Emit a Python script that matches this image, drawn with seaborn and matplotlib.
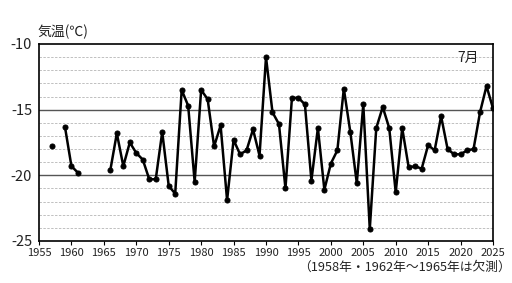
import numpy as np
import pandas as pd
import matplotlib
matplotlib.use("Agg")
import matplotlib.pyplot as plt
import seaborn as sns

years = list(range(1957, 2026))
temps = [
    -17.8, np.nan, -16.3, -19.3, -19.8, np.nan, np.nan, np.nan, np.nan,  # 1957-1965
    -19.6, -16.8, -19.3, -17.5, -18.3, -18.8, -20.3, -20.3, -16.7,       # 1966-1974
    -20.8, -21.4, -13.5, -14.7, -20.5, -13.5, -14.2, -17.8, -16.2,       # 1975-1983
    -21.9, -17.3, -18.4, -18.1, -16.5, -18.5, -11.0, -15.2, -16.1,       # 1984-1992
    -21.0, -14.1, -14.1, -14.6, -20.4, -16.4, -21.1, -19.1, -18.1,       # 1993-2001
    -13.4, -16.7, -20.6, -14.6, -24.1, -16.4, -14.8, -16.4, -21.3,       # 2002-2010
    -16.4, -19.4, -19.3, -19.5, -17.7, -18.1, -15.5, -18.0, -18.4,       # 2011-2019
    -18.4, -18.1, -18.0, -15.2, -13.2, -14.9,                            # 2020-2025
]
xticks = list(range(1955, 2026, 5))
yticks = [-10, -15, -20, -25]
title_text = "気温(℃)"
month_text = "7月"
note_text = "（1958年・1962年～1965年は欠測）"

df = pd.DataFrame({"year": years, "temp": temps})
# segment id so that missing years break the line
df["seg"] = df["temp"].isna().cumsum()
df = df.dropna()

sns.set_theme(style="white")
plt.rcParams["font.family"] = ["Noto Sans CJK JP", "DejaVu Sans"]
plt.rcParams["axes.unicode_minus"] = False

fig = plt.figure(figsize=(5.12, 2.83), dpi=100)
ax = fig.add_axes([39/512, 1-241/283, (493-39)/512, (241-44)/283])

# grid lines
for v in range(-24, -10):
    if v in (-15, -20):
        ax.axhline(v, color="#555555", lw=1.0, zorder=1)
    else:
        ax.axhline(v, color="#c0c0c0", lw=0.7, ls=(0, (2.5, 1.5)), zorder=1)

sns.lineplot(data=df, x="year", y="temp", units="seg", estimator=None,
             color="black", lw=1.8, marker="o", markersize=3.6,
             markeredgecolor="black", ax=ax, zorder=3)

ax.set_xlim(1955, 2025)
ax.set_ylim(-25, -10)
ax.set_xticks(xticks)
ax.set_xticklabels([str(t) for t in xticks])
ax.set_yticks(yticks)
ax.set_yticklabels([str(t) for t in yticks])
ax.tick_params(axis="x", length=3, width=0.8, color="black", labelsize=8, pad=2,
               direction="out", bottom=True, labelcolor="#222222")
ax.tick_params(axis="y", length=0, labelsize=10.5, pad=5, labelcolor="#222222")
ax.set_xlabel("")
ax.set_ylabel("")
for s in ax.spines.values():
    s.set_color("black")
    s.set_linewidth(1.2)

fig.text(37/512, 1-32/283, title_text, fontsize=10, ha="left", va="center", color="#222222")
ax.text(2021.2, -11.05, month_text, fontsize=10, ha="center", va="center", color="#222222")
fig.text(511/512, 1-267/283, note_text, fontsize=9.2, ha="right", va="center", color="#222222")

fig.savefig("out.png", dpi=100)
